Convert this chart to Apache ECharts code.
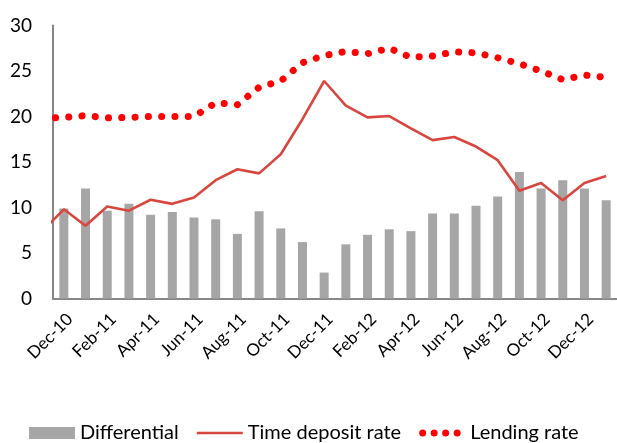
<!DOCTYPE html>
<html>
<head>
<meta charset="utf-8">
<script src="https://cdn.jsdelivr.net/npm/echarts@6/dist/echarts.min.js"></script>
<style>
  html, body { margin: 0; padding: 0; background: #fff; }
  #chart { width: 617px; height: 443px; }
</style>
</head>
<body>
<div id="chart"></div>
<script>
// months (Nov-10 is only there so the lines run into the left axis)
const months = [
  "Nov-10", "Dec-10",
  "Jan-11", "Feb-11", "Mar-11", "Apr-11", "May-11", "Jun-11",
  "Jul-11", "Aug-11", "Sep-11", "Oct-11", "Nov-11", "Dec-11",
  "Jan-12", "Feb-12", "Mar-12", "Apr-12", "May-12", "Jun-12",
  "Jul-12", "Aug-12", "Sep-12", "Oct-12", "Nov-12", "Dec-12",
  "Jan-13"
]

const differential = [
  null, 9.9,
  12.1, 9.65, 10.4, 9.2, 9.5, 8.9,
  8.7, 7.1, 9.6, 7.7, 6.2, 2.85,
  5.95, 7.0, 7.6, 7.4, 9.35, 9.35,
  10.2, 11.2, 13.9, 12.1, 13.0, 12.1,
  10.8
]

const timeDeposit = [
  7.4, 9.8,
  8.0, 10.1, 9.65, 10.85, 10.4, 11.1,
  13.0, 14.2, 13.75, 15.85, 19.7, 23.9,
  21.2, 19.9, 20.05, 18.7, 17.4, 17.75,
  16.7, 15.2, 11.85, 12.7, 10.8, 12.7,
  13.45
]

const lending = [
  19.8, 19.9,
  20.1, 19.85, 19.9, 20.0, 20.0, 20.0,
  21.5, 21.3, 23.2, 23.9, 25.9, 26.7,
  27.15, 26.9, 27.5, 26.5, 26.65, 27.1,
  27.0, 26.45, 25.8, 25.0, 24.05, 24.55,
  24.3
]

const FONT = "Lato"

// =====================
// legend icons (all 46 x 12 boxes)
// =====================
const lineIcon = "path://M0,0 M46,12 M0,4.8 L47,4.8 L47,7.4 L0,7.4 Z"
const dotsIcon = "path://M0,0 M46,12" +
  " M0,6 A3.5,3.5 0 1 1 7,6 A3.5,3.5 0 1 1 0,6 Z" +
  " M11.5,6 A3.5,3.5 0 1 1 18.5,6 A3.5,3.5 0 1 1 11.5,6 Z" +
  " M23,6 A3.5,3.5 0 1 1 30,6 A3.5,3.5 0 1 1 23,6 Z" +
  " M34.5,6 A3.5,3.5 0 1 1 41.5,6 A3.5,3.5 0 1 1 34.5,6 Z"

const chart = echarts.init(document.getElementById("chart"))

const option = {
  animation: false,
  backgroundColor: "#fff",
  textStyle: { fontFamily: FONT },

  grid: {
    left: 53,
    right: -10,
    top: 25.5,
    bottom: 144.5,
    containLabel: false
  },

  legend: {
    left: 29,
    top: 423,
    padding: 0,
    itemWidth: 46,
    itemHeight: 12,
    itemGap: 18,
    textStyle: { fontFamily: FONT, fontSize: 20, color: "#000" },
    data: [
      { name: "Differential", icon: "rect", itemStyle: { color: "#A6A6A6" } },
      { name: "Time deposit rate", icon: lineIcon, itemStyle: { color: "#D7463F" } },
      { name: "Lending rate", icon: dotsIcon, itemStyle: { color: "#FF0000" } }
    ]
  },

  xAxis: {
    type: "category",
    data: months,
    min: 1,
    boundaryGap: true,
    axisLine: { lineStyle: { color: "#868686", width: 2 } },
    axisTick: { show: false },
    axisLabel: {
      rotate: 45,
      margin: 12,
      verticalAlign: "top",
      fontFamily: FONT,
      fontSize: 17,
      color: "#000",
      interval: (i) => i % 2 === 1
    },
    splitLine: { show: false }
  },

  yAxis: {
    type: "value",
    min: 0,
    max: 30,
    interval: 5,
    axisLine: { show: true, lineStyle: { color: "#868686", width: 2 } },
    axisTick: { show: false },
    axisLabel: {
      margin: 21,
      fontFamily: FONT,
      fontSize: 19,
      color: "#000"
    },
    splitLine: { show: false }
  },

  series: [
    {
      name: "Differential",
      type: "bar",
      data: differential,
      barWidth: 9,
      itemStyle: { color: "#A6A6A6" }
    },
    {
      name: "Time deposit rate",
      type: "line",
      data: timeDeposit,
      showSymbol: false,
      symbol: "none",
      lineStyle: { color: "#D7463F", width: 2.6 },
      itemStyle: { color: "#D7463F" }
    },
    {
      name: "Lending rate",
      type: "line",
      data: lending,
      showSymbol: false,
      symbol: "none",
      lineStyle: {
        color: "#FF0000",
        width: 7,
        type: [0.1, 13.2],
        cap: "round"
      },
      itemStyle: { color: "#FF0000" }
    }
  ]
}

chart.setOption(option)
</script>
</body>
</html>
